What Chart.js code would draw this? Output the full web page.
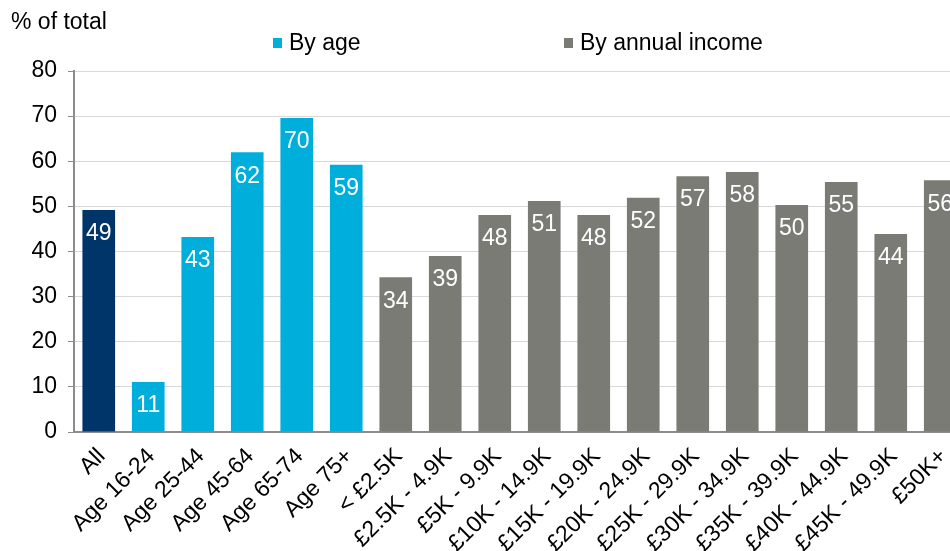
<!DOCTYPE html>
<html lang="en">
<head>
    <meta charset="UTF-8">
    <title>% of total by age and annual income</title>
    <script src="https://cdn.jsdelivr.net/npm/chart.js"></script>
    <style>
        html, body { margin: 0; padding: 0; background: #fff; overflow: hidden; }
        #wrap { width: 950px; height: 551px; overflow: hidden; position: relative; }
        #box { position: absolute; left: 0; top: 0; width: 965px; height: 551px; }
    </style>
</head>
<body>
    <div id="wrap"><div id="box"><canvas id="chart"></canvas></div></div>

    <script>
        // values
        const allLabel = 'All';
        const allValue = 49.2;
        const ageLabels = ['Age 16-24', 'Age 25-44', 'Age 45-64', 'Age 65-74', 'Age 75+'];
        const ageValues = [11.1, 43.2, 62.0, 69.6, 59.2];
        const incomeLabels = ['< £2.5K', '£2.5K - 4.9K', '£5K - 9.9K', '£10K - 14.9K', '£15K - 19.9K',
            '£20K - 24.9K', '£25K - 29.9K', '£30K - 34.9K', '£35K - 39.9K', '£40K - 44.9K',
            '£45K - 49.9K', '£50K+'];
        const incomeValues = [34.3, 39.0, 48.1, 51.2, 48.1, 51.9, 56.7, 57.6, 50.3, 55.4, 43.9, 55.8];
        const yTicks = [0, 10, 20, 30, 40, 50, 60, 70, 80];

        const navy = '#00356a';
        const cyan = '#00aedb';
        const grey = '#7b7b76';
        const font = '"Liberation Sans", Arial, Helvetica, sans-serif';

        const labels = [allLabel, ...ageLabels, ...incomeLabels];
        const values = [allValue, ...ageValues, ...incomeValues];
        const colors = [navy, ...ageLabels.map(() => cyan), ...incomeLabels.map(() => grey)];

        // white value labels inside the top of each bar
        const barLabels = {
            id: 'barLabels',
            afterDatasetsDraw(chart) {
                const ctx = chart.ctx;
                ctx.save();
                ctx.fillStyle = '#fff';
                ctx.font = '23px ' + font;
                ctx.textAlign = 'center';
                ctx.textBaseline = 'middle';
                chart.getDatasetMeta(0).data.forEach((bar, i) => {
                    ctx.fillText(Math.round(values[i]), bar.x, bar.y + 24);
                });
                ctx.restore();
            }
        };

        // axis caption and the two-item legend at the top
        const header = {
            id: 'header',
            afterDraw(chart) {
                const ctx = chart.ctx;
                ctx.save();
                ctx.font = '23px ' + font;
                ctx.fillStyle = '#000';
                ctx.textBaseline = 'middle';
                ctx.textAlign = 'left';
                ctx.fillText('% of total', 11, 23);

                const items = [['By age', cyan, 273], ['By annual income', grey, 564]];
                items.forEach(([text, color, x]) => {
                    ctx.fillStyle = color;
                    ctx.fillRect(x, 38, 9, 10);
                    ctx.fillStyle = '#000';
                    ctx.fillText(text, x + 16, 44);
                });
                ctx.restore();
            }
        };

        new Chart(document.getElementById('chart'), {
            type: 'bar',
            data: {
                labels: labels,
                datasets: [{
                    data: values,
                    backgroundColor: colors,
                    borderWidth: 0,
                    categoryPercentage: 0.66,
                    barPercentage: 1
                }]
            },
            options: {
                responsive: true,
                maintainAspectRatio: false,
                animation: false,
                layout: { padding: { top: 71, left: 0, right: 0, bottom: 0 } },
                plugins: {
                    legend: { display: false },
                    tooltip: { enabled: false }
                },
                scales: {
                    x: {
                        grid: { display: false },
                        border: { display: true, color: '#8c8c8c', width: 2 },
                        ticks: {
                            color: '#000',
                            font: { family: font, size: 23 },
                            minRotation: 45,
                            maxRotation: 45,
                            autoSkip: false,
                            padding: 3,
                            labelOffset: 3
                        },
                        afterFit(scale) { scale.height = 119; }
                    },
                    y: {
                        min: 0,
                        max: 80,
                        afterBuildTicks(scale) { scale.ticks = yTicks.map(v => ({ value: v })); },
                        grid: { color: '#d9d9d9', lineWidth: 1, tickColor: '#8c8c8c', tickLength: 6 },
                        border: { display: true, color: '#8c8c8c', width: 2 },
                        ticks: {
                            color: '#000',
                            font: { family: font, size: 23 },
                            padding: 11
                        },
                        afterFit(scale) { scale.width = 74; }
                    }
                }
            },
            plugins: [barLabels, header]
        });
    </script>
</body>
</html>
